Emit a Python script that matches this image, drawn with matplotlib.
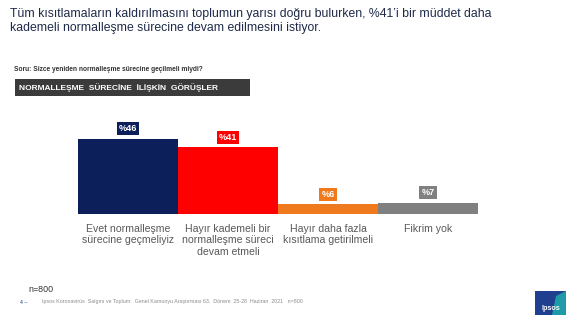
import matplotlib
matplotlib.use("Agg")
import matplotlib.pyplot as plt
from matplotlib.patches import Rectangle, Polygon

plt.rcParams["font.family"] = ["Liberation Sans", "DejaVu Sans"]

categories = ["Evet normalleşme\nsürecine geçmeliyiz",
              "Hayır kademeli bir\nnormalleşme süreci\ndevam etmeli",
              "Hayır daha fazla\nkısıtlama getirilmeli",
              "Fikrim yok"]
values = [46, 41, 6, 7]
labels = ["%46", "%41", "%6", "%7"]
colors = ["#0c1f5b", "#ff0000", "#ef7a1e", "#808080"]

title = ("Tüm kısıtlamaların kaldırılmasını toplumun yarısı doğru bulurken, %41’i bir müddet daha\n"
         "kademeli normalleşme sürecine devam edilmesini istiyor.")
question = "Soru: Sizce yeniden normalleşme sürecine geçilmeli miydi?"
header = "NORMALLEŞME  SÜRECİNE  İLİŞKİN  GÖRÜŞLER"
footer = "Ipsos Koronavirüs  Salgını ve Toplum:  Genel Kamuoyu Araştırması 63.  Dönem  25-28  Haziran  2021   n=800"

fig = plt.figure(figsize=(5.76, 3.24), dpi=100)
W, H = 576, 324

def fx(px):
    return px / W

def fy(py):
    return 1 - py / H

# title
fig.text(fx(10), fy(8), title, fontsize=8.85, color="#1f2a48", va="top", ha="left",
         linespacing=1.25)
fig.text(fx(14), fy(69), question, fontsize=4.8, color="#333333", weight="bold", va="center")

# dark header box
fig.patches.append(Rectangle((fx(15), fy(96)), fx(235), 17 / H, transform=fig.transFigure,
                             facecolor="#3b3b3b", edgecolor="none"))
fig.text(fx(19), fy(87.5), header, fontsize=6.0, color="white", weight="bold", va="center")

# bars
ax = fig.add_axes([fx(78), fy(214), fx(400), 104 / H])
x = range(len(values))
ax.bar(x, values, width=1.0, color=colors, edgecolor="none")
ax.set_xlim(-0.5, len(values) - 0.5)
ax.set_ylim(0, 104 / 1.63)
for i, v in enumerate(values):
    ax.annotate(labels[i], (i, v), xytext=(0, 4), textcoords="offset points",
                ha="center", va="bottom", fontsize=6.6, color="white", weight="bold",
                bbox=dict(boxstyle="square,pad=0.22", facecolor=colors[i], edgecolor="none"))
ax.set_xticks(list(x))
ax.set_xticklabels(categories, fontsize=7.6, color="#595959", linespacing=1.2)
ax.tick_params(axis="x", length=0, pad=7)
ax.set_yticks([])
for s in ax.spines.values():
    s.set_visible(False)

# footer
fig.text(fx(28), fy(290), "n=800", fontsize=6.4, color="#333333", va="center")
fig.text(fx(20), fy(302), "4 –", fontsize=3.8, color="#1f3c8c", va="center")
fig.text(fx(42), fy(302), footer, fontsize=3.8, color="#8c8c8c", va="center")

# logo
fig.patches.append(Rectangle((fx(535), fy(315)), fx(31), 24 / H, transform=fig.transFigure,
                             facecolor="#213f8f", edgecolor="none"))
fig.patches.append(Polygon([(fx(552), fy(315)), (fx(566), fy(315)), (fx(566), fy(291)),
                            (fx(556), fy(296))], closed=True, transform=fig.transFigure,
                           facecolor="#1e9aa8", edgecolor="none"))
fig.text(fx(550.5), fy(308), "Ipsos", fontsize=5.2, color="white", weight="bold",
         ha="center", va="center")

fig.savefig("out.png", dpi=100, facecolor="white")
